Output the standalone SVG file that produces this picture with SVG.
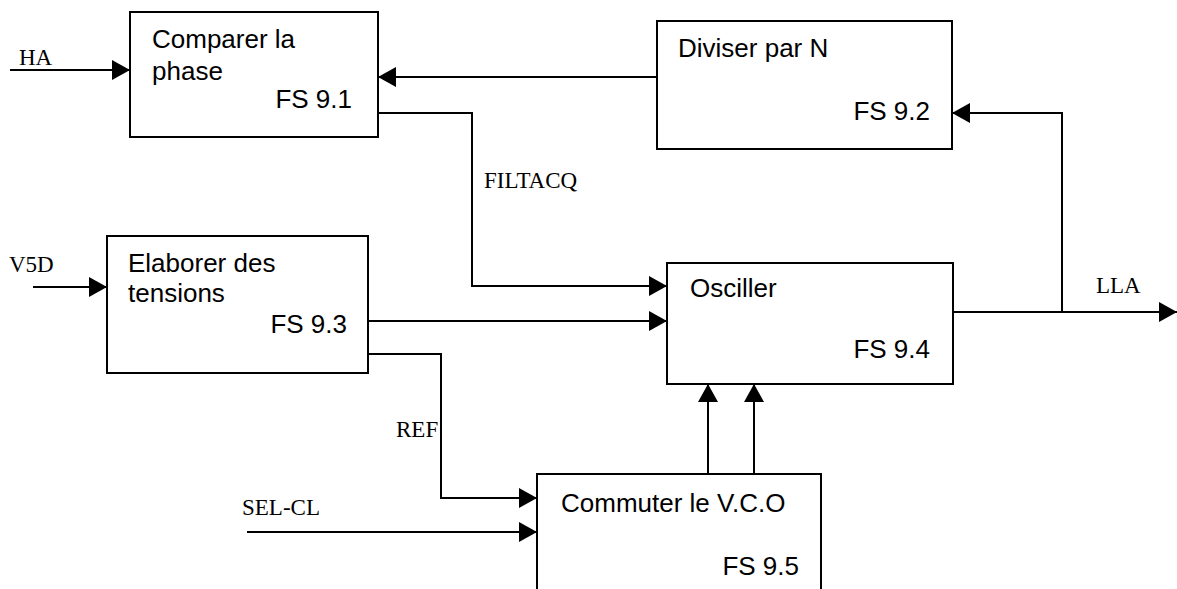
<svg xmlns="http://www.w3.org/2000/svg" width="1177" height="589" viewBox="0 0 1177 589">
<style>
.box{fill:#fff;stroke:#000;stroke-width:2}
.t{font-family:"Liberation Sans",Arial,sans-serif;font-size:26px;fill:#000}
.r{text-anchor:end}
.lbl{font-family:"Liberation Serif","Times New Roman",serif;font-size:23px;fill:#000}
.c{fill:none;stroke:#000;stroke-width:2}
</style>
<defs>
<marker id="ah" markerUnits="userSpaceOnUse" markerWidth="18" markerHeight="20" refX="18" refY="10" orient="auto" viewBox="0 0 18 20">
<path d="M0,0 L18,10 L0,20 z" fill="#000"/>
</marker>
</defs>
<rect width="1177" height="589" fill="#fff"/>
<g id="connectors">
<path class="c" d="M10,70 H130" marker-end="url(#ah)"/>
<path class="c" d="M33,287 H107" marker-end="url(#ah)"/>
<path class="c" d="M657,77 H378" marker-end="url(#ah)"/>
<path class="c" d="M378,113 H472 V286 H667" marker-end="url(#ah)"/>
<path class="c" d="M368,321 H667" marker-end="url(#ah)"/>
<path class="c" d="M368,354 H441 V498 H537" marker-end="url(#ah)"/>
<path class="c" d="M247,532 H537" marker-end="url(#ah)"/>
<path class="c" d="M708,474 V384" marker-end="url(#ah)"/>
<path class="c" d="M754,474 V384" marker-end="url(#ah)"/>
<path class="c" d="M953,312 H1177" marker-end="url(#ah)"/>
<path class="c" d="M1062,312 V113 H952" marker-end="url(#ah)"/>
<text class="lbl" x="19" y="65">HA</text>
<text class="lbl" x="9" y="272">V5D</text>
<text class="lbl" x="484" y="188">FILTACQ</text>
<text class="lbl" x="396" y="437">REF</text>
<text class="lbl" x="242" y="515">SEL-CL</text>
<text class="lbl" x="1096" y="293">LLA</text>
</g>
<g id="n1">
<rect class="box" x="130" y="12" width="248" height="125"/>
<text class="t" x="152" y="48">Comparer la</text>
<text class="t" x="152" y="80">phase</text>
<text class="t r" x="352" y="108">FS 9.1</text>
</g>
<g id="n2">
<rect class="box" x="657" y="21" width="295" height="128"/>
<text class="t" x="678" y="57">Diviser par N</text>
<text class="t r" x="930" y="120">FS 9.2</text>
</g>
<g id="n3">
<rect class="box" x="107" y="236" width="261" height="137"/>
<text class="t" x="128" y="272">Elaborer des</text>
<text class="t" x="128" y="302">tensions</text>
<text class="t r" x="347" y="333">FS 9.3</text>
</g>
<g id="n4">
<rect class="box" x="667" y="263" width="286" height="121"/>
<text class="t" x="690" y="297">Osciller</text>
<text class="t r" x="930" y="358">FS 9.4</text>
</g>
<g id="n5">
<rect class="box" x="537" y="474" width="284" height="130"/>
<text class="t" x="561" y="512">Commuter le V.C.O</text>
<text class="t r" x="799" y="575">FS 9.5</text>
</g>
</svg>
